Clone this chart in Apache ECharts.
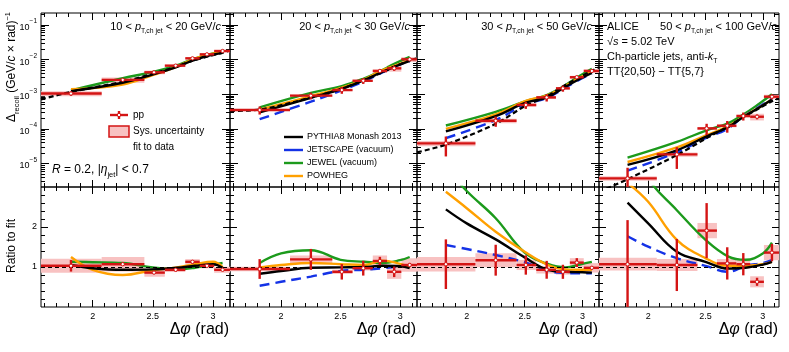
<!DOCTYPE html>
<html>
<head>
<meta charset="utf-8">
<script src="https://cdn.jsdelivr.net/npm/echarts@6/dist/echarts.min.js"></script>
<style>
html, body { margin: 0; padding: 0; background: #fff; }
#chart { width: 789px; height: 352px; }
</style>
</head>
<body>
<div id="chart"></div>
<script>
// bins in delta phi (rad)
var binLo = [1.5708, 2.075, 2.43, 2.6, 2.77, 2.89, 3.01];
var binHi = [2.075, 2.43, 2.6, 2.77, 2.89, 3.01, 3.1416];
var binX = [1.82, 2.25, 2.51, 2.69, 2.83, 2.95, 3.08];
var fitX = [1.5708, 1.82, 2.25, 2.51, 2.69, 2.83, 2.95, 3.08, 3.1416];
var ratioX = [1.82, 2.0, 2.25, 2.5, 2.7, 2.85, 3.0, 3.08];

var ptLow = [10, 20, 30, 50];
var ptHigh = [20, 30, 50, 100];

// pp data (Delta_recoil), relative stat and sys errors
var ppY = [
    [1.05e-3, 2.6e-3, 4.3e-3, 6.7e-3, 1.09e-2, 1.42e-2, 1.77e-2],
    [3.5e-4, 9.1e-4, 1.32e-3, 2.45e-3, 4.7e-3, 5.6e-3, 1.02e-2],
    [3.8e-5, 1.71e-4, 4.9e-4, 8.1e-4, 1.48e-3, 3.1e-3, 4.7e-3],
    [3.7e-6, 1.83e-5, 1.03e-4, 1.23e-4, 2.35e-4, 2.24e-4, 8.5e-4]
];
var ppStat = [
    [0.14, 0.04, 0.04, 0.04, 0.04, 0.03, 0.03],
    [0.26, 0.22, 0.22, 0.19, 0.09, 0.15, 0.05],
    [0.58, 0.33, 0.23, 0.24, 0.2, 0.1, 0.04],
    [1.03, 0.62, 0.36, 0.37, 0.26, 0.16, 0.16]
];
var ppSys = [
    [0.17, 0.17, 0.12, 0.06, 0.06, 0.06, 0.08],
    [0.06, 0.08, 0.06, 0.06, 0.12, 0.2, 0.16],
    [0.17, 0.15, 0.12, 0.1, 0.08, 0.1, 0.12],
    [0.15, 0.14, 0.1, 0.1, 0.1, 0.22, 0.14]
];
var ppRatio = [
    [1.03, 1.07, 0.86, 0.93, 1.13, 1.03, 0.93],
    [0.95, 1.19, 0.88, 0.97, 1.15, 0.88, 1.05],
    [1.07, 1.17, 1.05, 0.93, 0.88, 1.11, 0.98],
    [1.07, 1.05, 1.91, 1.09, 1.07, 0.63, 1.36]
];

// fit to data (at fitX)
var fitY = [
    [7.1e-4, 1.17e-3, 2.3e-3, 4.0e-3, 6.2e-3, 9.3e-3, 1.21e-2, 1.58e-2, 1.85e-2],
    [3.3e-4, 3.6e-4, 8.0e-4, 1.45e-3, 2.5e-3, 4.0e-3, 6.2e-3, 9.5e-3, 1.1e-2],
    [2.1e-5, 3.5e-5, 1.4e-4, 4.7e-4, 8.7e-4, 1.68e-3, 2.8e-3, 4.8e-3, 6.0e-3],
    [1.5e-6, 3.5e-6, 1.74e-5, 5.4e-5, 1.13e-4, 2.2e-4, 3.6e-4, 6.3e-4, 7.6e-4]
];

// models, top panels (at binX)
var pythiaY = [
    [1.23e-3, 2.14e-3, 3.8e-3, 6.0e-3, 9.3e-3, 1.27e-2, 1.56e-2],
    [3.0e-4, 7.9e-4, 1.44e-3, 2.5e-3, 4.1e-3, 6.2e-3, 9.2e-3],
    [8.5e-5, 2.35e-4, 5.7e-4, 8.0e-4, 1.48e-3, 2.5e-3, 4.1e-3],
    [9.1e-6, 2.4e-5, 6.1e-5, 1.08e-4, 2.2e-4, 3.8e-4, 7.1e-4]
];
var jetscapeY = [
    null,
    [1.9e-4, 6.1e-4, 1.3e-3, 2.3e-3, 3.9e-3, 6.2e-3, 9.0e-3],
    [5.4e-5, 1.8e-4, 5.2e-4, 7.7e-4, 1.41e-3, 2.4e-3, 4.0e-3],
    [6.2e-6, 2.1e-5, 5.6e-5, 9.9e-5, 2.3e-4, 4.0e-4, 7.4e-4]
];
var jewelY = [
    [1.3e-3, 2.9e-3, 4.5e-3, 6.7e-3, 1.02e-2, 1.36e-2, 1.8e-2],
    [4.2e-4, 1.1e-3, 1.72e-3, 2.8e-3, 4.6e-3, 7.5e-3, 1.2e-2],
    [1.25e-4, 3.1e-4, 6.3e-4, 9.4e-4, 1.65e-3, 3.0e-3, 5.4e-3],
    [1.47e-5, 4.2e-5, 9.1e-5, 1.42e-4, 2.6e-4, 4.8e-4, 1.0e-3]
];
var powhegY = [
    [1.4e-3, 1.9e-3, 3.7e-3, 6.1e-3, 1.0e-2, 1.37e-2, 1.6e-2],
    [3.6e-4, 8.8e-4, 1.55e-3, 2.6e-3, 4.6e-3, 6.6e-3, 9.5e-3],
    [1.0e-4, 2.6e-4, 6.4e-4, 9.1e-4, 1.58e-3, 2.7e-3, 4.5e-3],
    [1.1e-5, 2.9e-5, 6.6e-5, 1.16e-4, 2.27e-4, 3.8e-4, 7.1e-4]
];

// models, ratio to fit (at ratioX)
var pythiaR = [
    [1.05, 0.97, 0.93, 0.94, 0.98, 1.03, 1.07, 0.98],
    [0.83, 0.9, 0.98, 0.99, 1.0, 1.03, 1.02, 0.97],
    [2.44, 2.09, 1.69, 1.24, 0.93, 0.88, 0.87, 0.86],
    [2.61, 2.09, 1.38, 1.13, 0.96, 0.98, 1.06, 1.13]
];
var jetscapeR = [
    null,
    [0.53, 0.63, 0.76, 0.9, 0.93, 0.97, 1.02, 1.05],
    [1.55, 1.45, 1.3, 1.12, 0.9, 0.85, 0.84, 0.84],
    [1.77, 1.51, 1.22, 1.03, 0.88, 1.03, 1.1, 1.17]
];
var jewelR = [
    [1.13, 1.12, 1.1, 0.99, 0.94, 0.98, 1.06, 1.1],
    [1.1, 1.34, 1.42, 1.18, 1.13, 1.1, 1.17, 1.25],
    [3.5, 2.9, 2.22, 1.36, 1.075, 0.99, 1.08, 1.13],
    [4.2, 3.2, 2.42, 1.68, 1.26, 1.18, 1.34, 1.61]
];
var powhegR = [
    [1.25, 0.93, 0.8, 0.92, 0.99, 1.07, 1.13, 1.0],
    [0.99, 1.05, 1.1, 1.07, 1.05, 1.16, 1.08, 1.0],
    [2.88, 2.47, 1.88, 1.38, 1.05, 0.94, 0.93, 0.93],
    [3.1, 2.63, 1.68, 1.22, 1.03, 1.03, 1.07, 1.13]
];

// ticks
var xMajor = [2, 2.5, 3];
var xMinor = [1.6, 1.7, 1.8, 1.9, 2.1, 2.2, 2.3, 2.4, 2.6, 2.7, 2.8, 2.9, 3.0, 3.1];
var logMajor = [-5, -4, -3, -2, -1];
var rMajor = [1, 2];
var rMinor = [0.2, 0.4, 0.6, 0.8, 1.2, 1.4, 1.6, 1.8, 2.2, 2.4, 2.6, 2.8];

var FONT = '"Liberation Sans", Arial, Helvetica, sans-serif';
var RED = '#d41414';
var PINK = '#f8c2c2';
var C_PYTHIA = '#000000', C_JETSCAPE = '#1432e6', C_JEWEL = '#1c9a1c', C_POWHEG = '#ffa000';

var LOGMIN = -5.68, LOGMAX = -0.653;
var XMIN = Math.PI / 2, XMAX = Math.PI;

var logMinor = [];
for (var n = -6; n <= -1; n++) {
    for (var k = 2; k <= 9; k++) {
        var v = n + Math.log10(k);
        if (v > LOGMIN && v < LOGMAX) logMinor.push(v);
    }
}

var panelLeft = [41, 230, 417, 599];
var panelWidth = [189, 187, 182, 180];

var grids = [], xAxes = [], yAxes = [], series = [];

for (var r = 0; r < 2; r++) {
    for (var p = 0; p < 4; p++) {
        grids.push({
            left: panelLeft[p], width: panelWidth[p],
            top: r === 0 ? 13 : 187, height: r === 0 ? 174 : 120,
            show: true, borderColor: '#000', borderWidth: 1, backgroundColor: 'transparent',
            outerBoundsMode: 'none', containLabel: false
        });
    }
}

function tickAxis(g, pos, min, max, vals, len, label) {
    return {
        type: 'value', gridIndex: g, position: pos, min: min, max: max,
        axisLine: { show: false, onZero: false },
        splitLine: { show: false },
        axisTick: { show: true, inside: true, length: len, customValues: vals,
            lineStyle: { color: '#000', width: 1 } },
        axisLabel: label || { show: false },
        axisPointer: { show: false }
    };
}

var xLabel = {
    show: true, customValues: xMajor, fontSize: 9, fontFamily: FONT, color: '#000', margin: 5,
    formatter: function (v) { return String(v); }
};
var logLabel = {
    show: true, customValues: logMajor, margin: 4, color: '#000',
    formatter: function (v) { return '{b|10}{s|' + String(Math.round(v)).replace('-', '\u2212') + '}'; },
    rich: {
        b: { fontSize: 9, fontFamily: FONT, lineHeight: 14, verticalAlign: 'bottom', color: '#000' },
        s: { fontSize: 6.5, fontFamily: FONT, lineHeight: 8, verticalAlign: 'top', color: '#000' }
    }
};
var rLabel = {
    show: true, customValues: rMajor, fontSize: 9, fontFamily: FONT, color: '#000', margin: 4,
    formatter: function (v) { return String(v); }
};

for (var g = 0; g < 8; g++) {
    var bottomRow = g >= 4, firstCol = (g % 4) === 0;
    xAxes.push(tickAxis(g, 'bottom', XMIN, XMAX, xMajor, 7, bottomRow ? xLabel : null));
    xAxes.push(tickAxis(g, 'bottom', XMIN, XMAX, xMinor, 4));
    xAxes.push(tickAxis(g, 'top', XMIN, XMAX, xMajor, 7));
    xAxes.push(tickAxis(g, 'top', XMIN, XMAX, xMinor, 4));
    if (!bottomRow) {
        yAxes.push(tickAxis(g, 'left', LOGMIN, LOGMAX, logMajor, 8, firstCol ? logLabel : null));
        yAxes.push(tickAxis(g, 'left', LOGMIN, LOGMAX, logMinor, 4));
        yAxes.push(tickAxis(g, 'right', LOGMIN, LOGMAX, logMajor, 8));
        yAxes.push(tickAxis(g, 'right', LOGMIN, LOGMAX, logMinor, 4));
    } else {
        yAxes.push(tickAxis(g, 'left', 0, 3, rMajor, 7, firstCol ? rLabel : null));
        yAxes.push(tickAxis(g, 'left', 0, 3, rMinor, 4));
        yAxes.push(tickAxis(g, 'right', 0, 3, rMajor, 7));
        yAxes.push(tickAxis(g, 'right', 0, 3, rMinor, 4));
    }
}

function tfLog(v) { return Math.min(LOGMAX, Math.max(LOGMIN, Math.log10(Math.max(v, 1e-12)))); }
function tfRatio(v) { return Math.min(3, Math.max(0, v)); }
function tfLogRaw(v) { return Math.log10(v); }
function tfSame(v) { return v; }

function sysRender(tf) {
    return function (params, api) {
        var lo = api.value(0), hi = api.value(1), y = api.value(3), s = api.value(5);
        var a = api.coord([lo, tf(y * (1 + s))]);
        var b = api.coord([hi, tf(y * (1 - s))]);
        return { type: 'rect', shape: { x: a[0], y: a[1], width: b[0] - a[0], height: b[1] - a[1] },
            style: { fill: PINK } };
    };
}
function dataRender(tf) {
    return function (params, api) {
        var lo = api.value(0), hi = api.value(1), x = api.value(2), y = api.value(3), e = api.value(4);
        var c = api.coord([x, tf(y)]);
        var l = api.coord([lo, tf(y)]);
        var h = api.coord([hi, tf(y)]);
        var up = api.coord([x, tf(y * (1 + e))]);
        var dn = api.coord([x, tf(y * (1 - e))]);
        return { type: 'group', children: [
            { type: 'line', shape: { x1: l[0], y1: c[1], x2: h[0], y2: c[1] }, style: { stroke: RED, lineWidth: 2.4 } },
            { type: 'line', shape: { x1: c[0], y1: up[1], x2: c[0], y2: dn[1] }, style: { stroke: RED, lineWidth: 2.4 } },
            { type: 'circle', shape: { cx: c[0], cy: c[1], r: 1.7 }, style: { fill: '#fff', stroke: RED, lineWidth: 1 } }
        ] };
    };
}
function pointItems(vals, stat, sys) {
    return binX.map(function (x, i) { return [binLo[i], binHi[i], x, vals[i], stat[i], sys[i]]; });
}
function curve(g, xs, ys, tf, color, dashed, z, extra) {
    var s = {
        type: 'line', xAxisIndex: g * 4, yAxisIndex: g * 4, silent: true, z: z,
        data: xs.map(function (x, i) { return [x, tf(ys[i])]; }),
        smooth: 0.4, symbol: 'none', animation: false,
        lineStyle: { color: color, width: 2.4, type: dashed || 'solid' }
    };
    if (extra) for (var key in extra) s[key] = extra[key];
    return s;
}

for (var p = 0; p < 4; p++) {
    var gt = p, gr = p + 4;
    var topItems = pointItems(ppY[p], ppStat[p], ppSys[p]);
    var ratItems = pointItems(ppRatio[p], ppStat[p], ppSys[p]);

    // top: Delta_recoil
    series.push({ type: 'custom', xAxisIndex: gt * 4, yAxisIndex: gt * 4, z: 1, silent: true,
        renderItem: sysRender(tfLog), data: topItems });
    series.push(curve(gt, binX, jewelY[p], tfLogRaw, C_JEWEL, null, 2));
    if (jetscapeY[p]) series.push(curve(gt, binX, jetscapeY[p], tfLogRaw, C_JETSCAPE, [10, 6], 2));
    series.push(curve(gt, binX, powhegY[p], tfLogRaw, C_POWHEG, null, 3));
    series.push(curve(gt, binX, pythiaY[p], tfLogRaw, C_PYTHIA, null, 4));
    var fitLine = curve(gt, fitX, fitY[p], tfLogRaw, '#000', [5, 3], 5, { smooth: 0.3 });
    fitLine.lineStyle.width = 2.2;
    series.push(fitLine);
    series.push({ type: 'custom', xAxisIndex: gt * 4, yAxisIndex: gt * 4, z: 6, silent: true,
        renderItem: dataRender(tfLog), data: topItems });

    // bottom: ratio to fit
    series.push({ type: 'custom', xAxisIndex: gr * 4, yAxisIndex: gr * 4, z: 1, silent: true,
        renderItem: sysRender(tfRatio), data: ratItems });
    series.push(curve(gr, ratioX, jewelR[p], tfSame, C_JEWEL, null, 2));
    if (jetscapeR[p]) series.push(curve(gr, ratioX, jetscapeR[p], tfSame, C_JETSCAPE, [10, 6], 2));
    series.push(curve(gr, ratioX, powhegR[p], tfSame, C_POWHEG, null, 3));
    series.push(curve(gr, ratioX, pythiaR[p], tfSame, C_PYTHIA, null, 4, {
        markLine: { silent: true, symbol: ['none', 'none'], label: { show: false }, animation: false,
            lineStyle: { color: '#000', type: [4, 3], width: 1 }, data: [{ yAxis: 1 }] }
    }));
    series.push({ type: 'custom', xAxisIndex: gr * 4, yAxisIndex: gr * 4, z: 6, silent: true,
        renderItem: dataRender(tfRatio), data: ratItems });
}

// text helpers
function rich(size) {
    return {
        n: { fontSize: size, fontFamily: FONT, lineHeight: 16, color: '#000' },
        i: { fontSize: size, fontFamily: FONT, fontStyle: 'italic', lineHeight: 16, color: '#000' },
        s: { fontSize: size * 0.62, fontFamily: FONT, lineHeight: 8, verticalAlign: 'bottom', color: '#000' },
        u: { fontSize: size * 0.62, fontFamily: FONT, lineHeight: 8, verticalAlign: 'top', color: '#000' }
    };
}
function label(x, y, text, size, align, rot) {
    return { type: 'text', x: x, y: y, rotation: rot || 0, silent: true, z: 100,
        style: { text: text, rich: rich(size), fontFamily: FONT, fontSize: size, fill: '#000',
            align: align || 'left', verticalAlign: 'middle' } };
}
function plain(x, y, text, size) {
    return { type: 'text', x: x, y: y, silent: true, z: 100,
        style: { text: text, fontFamily: FONT, fontSize: size, fill: '#000',
            align: 'left', verticalAlign: 'middle' } };
}

var graphics = [];
var ptRight = [221, 410, 592, 777];
for (var p = 0; p < 4; p++) {
    graphics.push(label(ptRight[p], 27, '{n|' + ptLow[p] + ' < }{i|p}{s|T,ch jet}{n| < ' + ptHigh[p] + ' GeV/}{i|c}', 11, 'right'));
    graphics.push(label(panelLeft[p] + panelWidth[p] - 1, 330, '{n|\u0394}{i|\u03c6}{n| (rad)}', 16, 'right'));
}
graphics.push(label(607, 27, '{n|ALICE}', 11));
graphics.push(label(607, 42, '{n|\u221a}{i|s}{n| = 5.02 TeV}', 11));
graphics.push(label(607, 57, '{n|Ch-particle jets, anti-}{i|k}{s|T}', 11));
graphics.push(plain(607, 72, 'TT{20,50} \u2212 TT{5,7}', 11));
graphics.push(label(52, 170, '{i|R}{n| = 0.2, |}{i|\u03b7}{s|jet}{n|| < 0.7}', 12));
graphics.push(label(12, 12, '{n|\u0394}{s|recoil}{n| (GeV/}{i|c}{n| \u00d7 rad)}{u|\u22121}', 12, 'right', Math.PI / 2));
graphics.push(label(12, 246, '{n|Ratio to fit}', 12, 'center', Math.PI / 2));

// legend, panel 1
graphics.push({ type: 'line', shape: { x1: 110, y1: 115, x2: 128, y2: 115 }, style: { stroke: RED, lineWidth: 2.4 }, z: 100 });
graphics.push({ type: 'line', shape: { x1: 119, y1: 111, x2: 119, y2: 119 }, style: { stroke: RED, lineWidth: 2.4 }, z: 100 });
graphics.push({ type: 'circle', shape: { cx: 119, cy: 115, r: 1.7 }, style: { fill: '#fff', stroke: RED, lineWidth: 1 }, z: 101 });
graphics.push(label(133, 115, '{n|pp}', 10));
graphics.push({ type: 'rect', shape: { x: 109, y: 126, width: 20, height: 11 }, style: { fill: PINK, stroke: RED, lineWidth: 1.5 }, z: 100 });
graphics.push(label(133, 131, '{n|Sys. uncertainty}', 10));
graphics.push(label(133, 147, '{n|fit to data}', 10));

// legend, panel 2
var legNames = ['PYTHIA8 Monash 2013', 'JETSCAPE (vacuum)', 'JEWEL (vacuum)', 'POWHEG'];
var legColors = [C_PYTHIA, C_JETSCAPE, C_JEWEL, C_POWHEG];
for (var i = 0; i < 4; i++) {
    var ly = 137 + i * 13;
    graphics.push({ type: 'line', shape: { x1: 284, y1: ly, x2: 303, y2: ly }, style: { stroke: legColors[i], lineWidth: 2.4 }, z: 100 });
    graphics.push(label(307, ly, '{n|' + legNames[i] + '}', 9));
}

var myChart = echarts.init(document.getElementById('chart'), null, { renderer: 'canvas' });
myChart.setOption({
    animation: false,
    backgroundColor: '#fff',
    grid: grids,
    xAxis: xAxes,
    yAxis: yAxes,
    series: series,
    graphic: graphics
});
</script>
</body>
</html>
